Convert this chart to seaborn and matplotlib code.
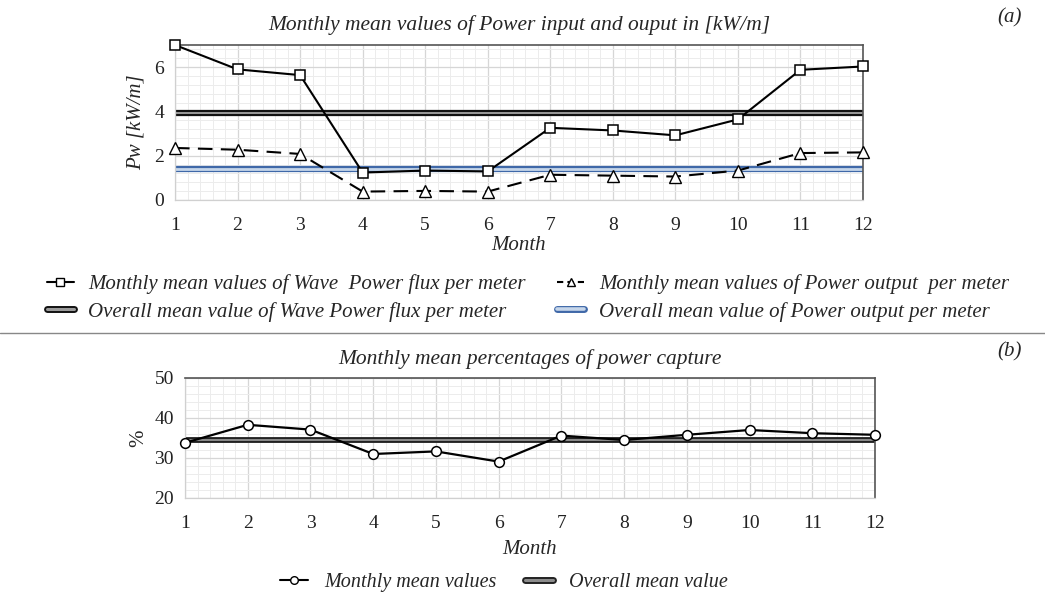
import matplotlib
matplotlib.use("Agg")
import matplotlib.pyplot as plt
from matplotlib.lines import Line2D
from matplotlib.ticker import MultipleLocator
from matplotlib.legend_handler import HandlerTuple
import seaborn as sns
import pandas as pd

months = list(range(1, 13))
power_flux = [7.0, 5.9, 5.64, 1.24, 1.33, 1.29, 3.26, 3.14, 2.92, 3.64, 5.88, 6.03]
power_output = [2.35, 2.27, 2.08, 0.38, 0.41, 0.38, 1.14, 1.10, 1.06, 1.33, 2.12, 2.15]
mean_flux = 3.94
mean_output = 1.42
capture_pct = [33.8, 38.3, 37.1, 31.0, 31.65, 29.1, 35.6, 34.5, 35.8, 37.0, 36.2, 35.8]
mean_capture = 34.5

sns.set_style("white")
plt.rcParams['font.family'] = ['Liberation Serif', 'DejaVu Serif']

fig = plt.figure(figsize=(10.45, 6.02), dpi=100)
W, H = 1045, 602
def axpos(l, r, t, b):
    return [l / W, 1 - b / H, (r - l) / W, (b - t) / H]

ax1 = fig.add_axes(axpos(175, 863, 45, 200))
ax2 = fig.add_axes(axpos(185, 875, 378, 498))

df_top = pd.DataFrame({"Month": months, "flux": power_flux, "out": power_output})
df_bot = pd.DataFrame({"Month": months, "pct": capture_pct})

def style_grid(ax, ymajor, yminor):
    ax.set_xlim(1, 12)
    ax.xaxis.set_major_locator(MultipleLocator(1))
    ax.xaxis.set_minor_locator(MultipleLocator(0.2))
    ax.yaxis.set_major_locator(MultipleLocator(ymajor))
    ax.yaxis.set_minor_locator(MultipleLocator(yminor))
    ax.grid(which='major', color='#d6d6d6', linewidth=0.9, zorder=0)
    ax.grid(which='minor', color='#ececec', linewidth=0.7, zorder=0)
    ax.set_axisbelow(True)
    for s in ['top', 'right']:
        ax.spines[s].set_color('#555555')
        ax.spines[s].set_linewidth(1.2)
    for s in ['left', 'bottom']:
        ax.spines[s].set_color('#d0d0d0')
        ax.spines[s].set_linewidth(0.9)
    ax.tick_params(which='both', length=0, labelsize=14, pad=8, colors='#222222')
    ax.tick_params(axis='x', pad=12)

# --- top panel
ax1.set_ylim(0, 7)
style_grid(ax1, 2, 0.4)
ax1.axhline(mean_flux, color='#111111', lw=4.5, zorder=2)
ax1.axhline(mean_flux, color='#9a9a9a', lw=1.4, zorder=2.1)
ax1.axhline(mean_output, color='#3f68a8', lw=4.5, zorder=2)
ax1.axhline(mean_output, color='#c6d6ea', lw=2.0, zorder=2.1)
sns.lineplot(data=df_top, x="Month", y="flux", ax=ax1, color='black', lw=1.5,
             marker='s', markersize=7, markerfacecolor='white',
             markeredgecolor='black', markeredgewidth=1.1, zorder=3, clip_on=False)
sns.lineplot(data=df_top, x="Month", y="out", ax=ax1, color='black', lw=1.5,
             linestyle=(0, (7, 4)), marker='^', markersize=8, markerfacecolor='white',
             markeredgecolor='black', markeredgewidth=1.0, zorder=3, clip_on=False)
ax1.set_xlabel("Month", style='italic', fontsize=15, labelpad=2)
ax1.set_ylabel("Pw [kW/m]", style='italic', fontsize=15, labelpad=6)
ax1.set_title("Monthly mean values of Power input and ouput in [kW/m]",
              style='italic', fontsize=15.5, pad=11)

# --- bottom panel
ax2.set_ylim(20, 50)
style_grid(ax2, 10, 2)
ax2.axhline(mean_capture, color='#222222', lw=4.2, zorder=2)
ax2.axhline(mean_capture, color='#8c8c8c', lw=1.4, zorder=2.1)
sns.lineplot(data=df_bot, x="Month", y="pct", ax=ax2, color='black', lw=1.6,
             marker='o', markersize=7, markerfacecolor='white',
             markeredgecolor='black', markeredgewidth=1.1, zorder=3, clip_on=False)
ax2.set_xlabel("Month", style='italic', fontsize=15, labelpad=6)
ax2.set_ylabel("%", fontsize=15, labelpad=4)
ax2.set_title("Monthly mean percentages of power capture",
              style='italic', fontsize=15.5, pad=10)

fig.text(1010 / W, 1 - 18 / H, "(a)", style='italic', fontsize=15, ha='center', va='center')
fig.text(1010 / W, 1 - 352 / H, "(b)", style='italic', fontsize=15, ha='center', va='center')

# separator
fig.add_artist(Line2D([0, 1], [1 - 333 / H, 1 - 333 / H], color='#888888', lw=1.0))

# legends
h_flux = Line2D([], [], color='black', lw=1.5, marker='s', markersize=5.5,
                markerfacecolor='white', markeredgecolor='black')
h_out = Line2D([], [], color='black', lw=1.5, linestyle=(0, (3, 2)), marker='^', markersize=6,
               markerfacecolor='white', markeredgecolor='black')
h_mflux = (Line2D([], [], color='#111111', lw=5), Line2D([], [], color='#9a9a9a', lw=2.2))
h_mout = (Line2D([], [], color='#3f68a8', lw=5), Line2D([], [], color='#c6d6ea', lw=2.6))

leg1 = fig.legend([h_flux, h_mflux, h_out, h_mout],
                  ["Monthly mean values of Wave  Power flux per meter",
                   "Overall mean value of Wave Power flux per meter",
                   "Monthly mean values of Power output  per meter",
                   "Overall mean value of Power output per meter"],
                  handler_map={tuple: HandlerTuple(ndivide=1, pad=0)},
                  ncol=2, loc='center', bbox_to_anchor=(0.505, 1 - 298 / H),
                  frameon=False, prop={'style': 'italic', 'size': 15},
                  handlelength=1.3, handletextpad=0.7, columnspacing=1.5,
                  labelspacing=0.35)

h_m = Line2D([], [], color='black', lw=1.5, marker='o', markersize=5.5,
             markerfacecolor='white', markeredgecolor='black')
h_mm = (Line2D([], [], color='#222222', lw=5), Line2D([], [], color='#8c8c8c', lw=2.2))
leg2 = fig.legend([h_m, h_mm], ["Monthly mean values", "Overall mean value"],
                  handler_map={tuple: HandlerTuple(ndivide=1, pad=0)},
                  ncol=2, loc='center', bbox_to_anchor=(0.482, 1 - 582 / H),
                  frameon=False, prop={'style': 'italic', 'size': 14.5},
                  handlelength=1.4, handletextpad=0.8, columnspacing=1.4)

fig.savefig("out.png", dpi=100)
